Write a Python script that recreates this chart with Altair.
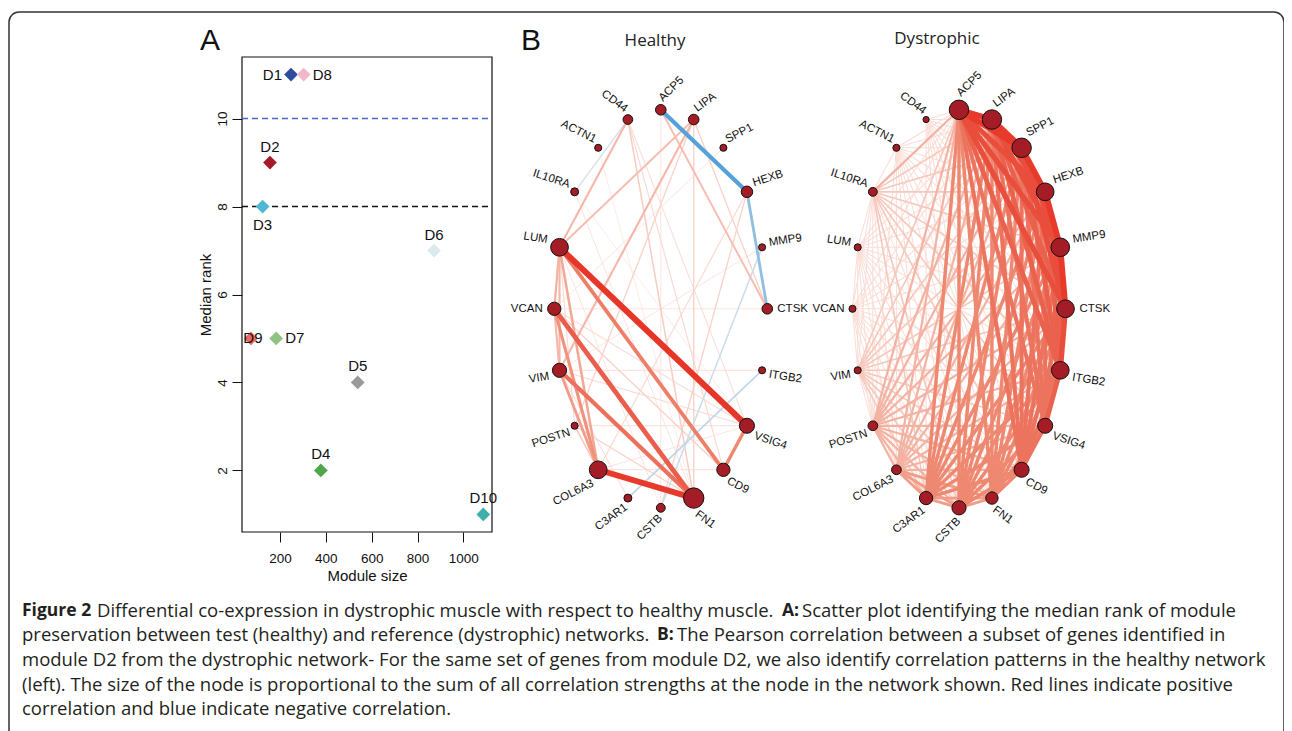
import math
import altair as alt
import pandas as pd

# ---------------- Panel A: module preservation ----------------
modules = ["D1", "D2", "D3", "D4", "D5", "D6", "D7", "D8", "D9", "D10"]
module_size = [248, 156, 124, 378, 539, 872, 183, 303, 73, 1087]
median_rank = [11, 9, 8, 2, 4, 7, 5, 11, 5, 1]
label_side = ["left", "above", "below", "above", "above", "above", "right", "right", "center", "above"]
module_colors = ["#2e4c9d", "#a51a2b", "#4cb8d1", "#4fa74b", "#9a9a9a",
                 "#d9e9ee", "#90c284", "#f2b8c8", "#e9695e", "#3fafab"]
x_ticks = [200, 400, 600, 800, 1000]
y_ticks = [2, 4, 6, 8, 10]
threshold_ranks = [10, 8]
threshold_colors = ["#4a66d0", "#111111"]

# ---------------- Panel B: D2 gene networks ----------------
genes = ["ACP5", "LIPA", "SPP1", "HEXB", "MMP9", "CTSK", "ITGB2", "VSIG4", "CD9", "FN1",
         "CSTB", "C3AR1", "COL6A3", "POSTN", "VIM", "VCAN", "LUM", "IL10RA", "ACTN1", "CD44"]
healthy_strength = [6, 6, 4, 6.5, 4, 6, 4, 8.5, 7.5, 11.5, 5, 4.5, 10, 4, 8, 7.5, 10, 4.5, 4, 5.5]
dystrophic_strength = [11, 11, 11, 10, 10.5, 10, 10, 8.5, 8.5, 7, 8, 7.5, 5.5, 5.5, 4, 4, 4, 5, 4, 3.5]

healthy_edges = [
    ("LUM", "VSIG4", 0.92), ("COL6A3", "FN1", 0.90), ("VCAN", "FN1", 0.72), ("VIM", "FN1", 0.62),
    ("LUM", "CD9", 0.55), ("VSIG4", "CD9", 0.50), ("VCAN", "COL6A3", 0.45), ("VIM", "COL6A3", 0.40),
    ("LUM", "COL6A3", 0.35), ("LUM", "VCAN", 0.30), ("LUM", "VIM", 0.28), ("VCAN", "VIM", 0.28),
    ("ACP5", "HEXB", -0.62), ("HEXB", "CTSK", -0.40), ("ITGB2", "C3AR1", -0.22), ("CSTB", "MMP9", -0.18),
    ("IL10RA", "CD44", -0.15),
    ("CD44", "LUM", 0.28), ("CD44", "FN1", 0.18), ("CD44", "CD9", 0.12), ("CD44", "VSIG4", 0.10),
    ("LIPA", "LUM", 0.25), ("LIPA", "VIM", 0.28), ("LIPA", "POSTN", 0.15), ("LIPA", "FN1", 0.15),
    ("ACP5", "CTSK", 0.25), ("ACP5", "CSTB", 0.08), ("LIPA", "CTSK", 0.15), ("SPP1", "VCAN", 0.08),
    ("HEXB", "COL6A3", 0.12), ("HEXB", "CSTB", 0.15), ("MMP9", "VIM", 0.08), ("CTSK", "VCAN", 0.08),
    ("ITGB2", "VIM", 0.10), ("POSTN", "FN1", 0.15), ("POSTN", "COL6A3", 0.20), ("POSTN", "VSIG4", 0.10),
    ("VIM", "VSIG4", 0.12), ("VCAN", "CD9", 0.15), ("C3AR1", "VIM", 0.10), ("CSTB", "LUM", 0.08),
    ("COL6A3", "CD9", 0.10), ("COL6A3", "VSIG4", 0.08), ("ACTN1", "FN1", 0.06), ("IL10RA", "VSIG4", 0.06),
    ("IL10RA", "FN1", 0.08), ("VCAN", "VSIG4", 0.10), ("LUM", "POSTN", 0.12),
]

# upper triangle of the dystrophic correlation matrix, in gene order; digit d -> r = d / 10
dystrophic_rows = [
    "9988876655533211311",
    "988776655533211211",
    "98876655533211211",
    "9876655533211211",
    "976655533211211",
    "86655533211211",
    "7655533211211",
    "655533211211",
    "55533211211",
    "4443211111",
    "443211211",
    "43211211",
    "3111110",
    "111110",
    "11100",
    "1100",
    "100",
    "10",
    "0",
]

caption_segments = [
    (0, 22, "Figure 2", True),
    (0, 97, "Differential co-expression in dystrophic muscle with respect to healthy muscle.", False),
    (0, 782, "A:", True),
    (0, 802, "Scatter plot identifying the median rank of module", False),
    (1, 22, "preservation between test (healthy) and reference (dystrophic) networks.", False),
    (1, 657, "B:", True),
    (1, 677, "The Pearson correlation between a subset of genes identified in", False),
    (2, 22, "module D2 from the dystrophic network- For the same set of genes from module D2, we also identify correlation patterns in the healthy network", False),
    (3, 22, "(left). The size of the node is proportional to the sum of all correlation strengths at the node in the network shown. Red lines indicate positive", False),
    (4, 22, "correlation and blue indicate negative correlation.", False),
]
caption_line_y = [611, 635, 660, 685, 709]

# ---------------- geometry (page pixels) ----------------
ORIGIN_X, ORIGIN_Y = 9, 12
FRAME_W, FRAME_H = 1275, 728


def cx(px):
    return px - ORIGIN_X


def cy(py):
    return py - ORIGIN_Y


A_LEFT, A_RIGHT, A_TOP, A_BOTTOM = 242, 492, 57, 532
XDOM = [34, 1125]
YDOM = [0.6, 11.4]
RX, RY = 106.5, 199.0
NET_CY = 308.8
HEALTHY_CX, DYST_CX = 660.8, 959.0
LABEL_GAP = 4

FONT_A = "Liberation Sans"
FONT_CAP = "Open Sans"

# ---------------- annotation layer (page coordinates) ----------------
ann_x = alt.Scale(domain=[ORIGIN_X, ORIGIN_X + FRAME_W], range=[0, FRAME_W], nice=False, zero=False)
ann_y = alt.Scale(domain=[ORIGIN_Y, ORIGIN_Y + FRAME_H], range=[0, FRAME_H], nice=False, zero=False)


def ann_text(df, **kw):
    return alt.Chart(df).mark_text(baseline="middle", **kw).encode(
        x=alt.X("x:Q", scale=ann_x, axis=None),
        y=alt.Y("y:Q", scale=ann_y, axis=None),
        text="t:N",
    )


letters = pd.DataFrame({"x": [210, 531], "y": [41, 41], "t": ["A", "B"]})
titles = pd.DataFrame({"x": [655, 937], "y": [41, 39], "t": ["Healthy", "Dystrophic"]})
cap = pd.DataFrame([{"x": x, "y": caption_line_y[l], "t": t, "b": b} for (l, x, t, b) in caption_segments])

annotations = alt.layer(
    ann_text(letters, font=FONT_A, fontSize=30, color="#111", align="center"),
    ann_text(titles, font="Open Sans", fontSize=17, color="#222", align="center"),
    ann_text(cap[~cap.b], font=FONT_CAP, fontSize=18.5, color="#231f20", align="left"),
    ann_text(cap[cap.b], font=FONT_CAP, fontSize=17.5, fontWeight="bold", color="#231f20", align="left"),
)

# ---------------- Panel A ----------------
xs_A = alt.Scale(domain=XDOM, range=[cx(A_LEFT), cx(A_RIGHT)], nice=False, zero=False)
ys_A = alt.Scale(domain=YDOM, range=[cy(A_BOTTOM), cy(A_TOP)], nice=False, zero=False)
x_axis_A = alt.Axis(orient="bottom", offset=cy(A_BOTTOM) - FRAME_H, values=x_ticks, domain=False, grid=False,
                    tickSize=10, tickColor="#111", labelColor="#111", labelFont=FONT_A, labelFontSize=13.5,
                    labelPadding=9, title="Module size", titleFont=FONT_A, titleFontSize=15,
                    titleFontWeight="normal", titleColor="#111", titlePadding=4, format="d")
y_axis_A = alt.Axis(orient="left", offset=-cx(A_LEFT), values=y_ticks, domain=False, grid=False,
                    tickSize=10, tickColor="#111", labelColor="#111", labelFont=FONT_A, labelFontSize=13.5,
                    labelAngle=270, labelAlign="center", labelBaseline="bottom", labelPadding=3,
                    title="Median rank", titleFont=FONT_A, titleFontSize=15, titleFontWeight="normal",
                    titleColor="#111", titlePadding=2)

scatter_df = pd.DataFrame({"module": modules, "size": module_size, "rank": median_rank, "side": label_side})
box_df = pd.DataFrame({"x0": [XDOM[0]], "x1": [XDOM[1]], "y0": [YDOM[0]], "y1": [YDOM[1]]})

box = alt.Chart(box_df).mark_rect(fillOpacity=0, stroke="#111", strokeWidth=1.2).encode(
    x=alt.X("x0:Q", scale=xs_A, axis=x_axis_A), x2="x1",
    y=alt.Y("y0:Q", scale=ys_A, axis=y_axis_A), y2="y1",
)
rules = []
for rk, col in zip(threshold_ranks, threshold_colors):
    rdf = pd.DataFrame({"x0": [XDOM[0]], "x1": [XDOM[1]], "y0": [rk]})
    rules.append(alt.Chart(rdf).mark_rule(color=col, strokeDash=[6, 4], strokeWidth=1.5).encode(
        x=alt.X("x0:Q", scale=xs_A, axis=x_axis_A), x2="x1",
        y=alt.Y("y0:Q", scale=ys_A, axis=y_axis_A),
    ))
points = alt.Chart(scatter_df).mark_point(shape="diamond", filled=True, size=190, opacity=1).encode(
    x=alt.X("size:Q", scale=xs_A, axis=x_axis_A),
    y=alt.Y("rank:Q", scale=ys_A, axis=y_axis_A),
    color=alt.Color("module:N", scale=alt.Scale(domain=modules, range=module_colors), legend=None),
)
side_style = {
    "left": dict(align="right", dx=-9, dy=0),
    "right": dict(align="left", dx=9, dy=0),
    "above": dict(align="center", dx=0, dy=-16),
    "below": dict(align="center", dx=0, dy=18),
    "center": dict(align="center", dx=2, dy=0),
}
labels_A = []
for side, st in side_style.items():
    sub = scatter_df[scatter_df.side == side]
    labels_A.append(alt.Chart(sub).mark_text(font=FONT_A, fontSize=15, color="#111", baseline="middle", **st).encode(
        x=alt.X("size:Q", scale=xs_A, axis=x_axis_A),
        y=alt.Y("rank:Q", scale=ys_A, axis=y_axis_A),
        text="module:N",
    ))
panel_a = alt.layer(box, *rules, points, *labels_A)

# ---------------- Panel B networks ----------------
edge_color = alt.Scale(domain=[-0.6, 0, 0.5, 1], range=["#5aa5dc", "#fdf2ef", "#ee8870", "#e5261a"],
                       interpolate="rgb")
edge_width = alt.Scale(domain=[0, 1], range=[0.4, 6.5])
node_size = alt.Scale(type="pow", exponent=2, domain=[0, 12], range=[0, math.pi * 144])


def network(strengths, edges, center_x):
    n = len(genes)
    pos = {}
    rows = []
    for i, g in enumerate(genes):
        th = math.pi / 2 - 2 * math.pi * i / n
        c, s = math.cos(th), math.sin(th)
        r = strengths[i]
        norm = math.hypot(RX * c, RY * s)
        gap = r + LABEL_GAP
        if i < n / 2:
            side = "right"
            ang = (-math.degrees(th) / 2) % 360
        else:
            side = "left"
            ang = (90 - (math.degrees(th) % 360) / 2) % 360
        pos[g] = (c, s)
        rows.append(dict(gene=g, x=c, y=s, strength=r, lx=c + gap * c / norm, ly=s + gap * s / norm,
                         angle=ang, side=side))
    nodes = pd.DataFrame(rows)
    erows = []
    for a, b, r in edges:
        erows.append(dict(x=pos[a][0], y=pos[a][1], x2=pos[b][0], y2=pos[b][1], r=r, w=abs(r)))
    edf = pd.DataFrame(erows).sort_values("w").reset_index(drop=True)

    xs = alt.Scale(domain=[-1, 1], range=[cx(center_x - RX), cx(center_x + RX)], nice=False, zero=False)
    ys = alt.Scale(domain=[-1, 1], range=[cy(NET_CY + RY), cy(NET_CY - RY)], nice=False, zero=False)

    e = alt.Chart(edf).mark_rule(opacity=1, strokeCap="butt").encode(
        x=alt.X("x:Q", scale=xs, axis=None), y=alt.Y("y:Q", scale=ys, axis=None),
        x2="x2", y2="y2",
        color=alt.Color("r:Q", scale=edge_color, legend=None),
        strokeWidth=alt.StrokeWidth("w:Q", scale=edge_width, legend=None),
    )
    v = alt.Chart(nodes).mark_circle(color="#a41c25", stroke="#111", strokeWidth=1, opacity=1).encode(
        x=alt.X("x:Q", scale=xs, axis=None), y=alt.Y("y:Q", scale=ys, axis=None),
        size=alt.Size("strength:Q", scale=node_size, legend=None),
    )
    labs = []
    for side, al in (("right", "left"), ("left", "right")):
        labs.append(alt.Chart(nodes[nodes.side == side]).mark_text(
            font=FONT_A, fontSize=11.5, color="#111", align=al, baseline="middle").encode(
            x=alt.X("lx:Q", scale=xs, axis=None), y=alt.Y("ly:Q", scale=ys, axis=None),
            angle=alt.Angle("angle:Q", scale=None), text="gene:N",
        ))
    return alt.layer(e, v, *labs)


dyst_edges = []
for i, row in enumerate(dystrophic_rows):
    for k, ch in enumerate(row):
        d = int(ch)
        if d > 0:
            dyst_edges.append((genes[i], genes[i + 1 + k], d / 10))

healthy_net = network(healthy_strength, healthy_edges, HEALTHY_CX)
dyst_net = network(dystrophic_strength, dyst_edges, DYST_CX)

chart = alt.layer(annotations, panel_a, healthy_net, dyst_net).resolve_scale(
    x="independent", y="independent", color="independent", size="independent", strokeWidth="independent",
).properties(
    width=FRAME_W, height=FRAME_H,
    autosize=alt.AutoSizeParams(type="none"),
    padding={"left": 1, "top": 4, "right": 0, "bottom": 0},
    background="white",
).configure_view(stroke="#333", strokeWidth=1.5, cornerRadius=10)

chart.save("out.html", embed_options={"renderer": "svg", "actions": False})
